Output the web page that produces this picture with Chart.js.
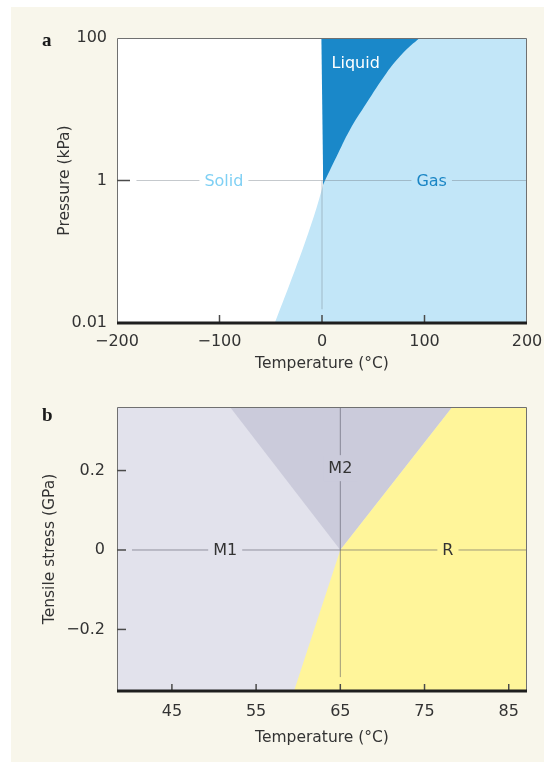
<!DOCTYPE html>
<html lang="en">
<head>
<meta charset="utf-8">
<title>Phase diagrams</title>
<script src="https://cdn.jsdelivr.net/npm/chart.js@4.4.1/dist/chart.umd.min.js"></script>
<style>
  body { margin: 0; background: #fff; }
  #cream { position: absolute; left: 11px; top: 7px; width: 533px; height: 755px; background: #f8f6eb; }
  .box { position: absolute; left: 0; width: 544px; }
</style>
</head>
<body>
<div id="cream"></div>
<div class="box" style="top:0;height:380px"><canvas id="chartA"></canvas></div>
<div class="box" style="top:380px;height:382px"><canvas id="chartB"></canvas></div>

<script>
// ---- panel a : water, pressure vs temperature ----
var tempTicksA = [-200, -100, 0, 100, 200];
var pressTicksA = [0.01, 1, 100];
var vapourT = [-1, 1.2, 14, 27, 43.3, 62.8, 79, 95.3, 110];
var vapourP = [0.73, 0.88, 2.13, 5.08, 12.1, 32.1, 61.4, 100, 145];
var sublimT = [-46.1, -26.7, -15, -5.3, 1.2];
var sublimP = [0.01, 0.0537, 0.157, 0.416, 0.88];
var meltT = [-200, -0.6, 1.2, 1.2];
var meltP = [100, 100, 0.88, 0.01];

// ---- panel b : tensile stress vs temperature ----
var tempTicksB = [45, 55, 65, 75, 85];
var stressTicksB = [-0.2, 0, 0.2];
var m2EdgeT = [51.9, 65, 78.3];
var m2EdgeS = [0.36, 0, 0.36];
var rEdgeT = [59.5, 65, 78.3, 87.2];
var rEdgeS = [-0.355, 0, 0.36, 0.36];

var FONT = '"DejaVu Sans", sans-serif';
var TXT = '#333333';

function pts(xs, ys) {
  return xs.map(function (x, i) { return { x: x, y: ys[i] }; });
}
function fmt(v) {
  return String(v).replace('-', '\u2212');
}
function area(data, fill, color, order, curved) {
  return { data: data, fill: fill, backgroundColor: color, borderWidth: 0, pointRadius: 0,
           showLine: true, order: order, tension: curved ? 0.4 : 0 };
}
function gline(data, color) {
  return { data: data, borderColor: color, borderWidth: 1, pointRadius: 0, showLine: true,
           fill: false, order: 1 };
}

// frame, inner ticks, region labels, panel letter
var decor = {
  id: 'decor',
  afterDatasetsDraw: function (chart, args, o) {
    var ctx = chart.ctx, a = chart.chartArea;
    var xs = chart.scales.x, ys = chart.scales.y;
    ctx.save();
    ctx.strokeStyle = '#707070';
    ctx.lineWidth = 1;
    ctx.beginPath();
    ctx.moveTo(a.left + 0.5, a.bottom);
    ctx.lineTo(a.left + 0.5, a.top + 0.5);
    ctx.lineTo(a.right - 0.5, a.top + 0.5);
    ctx.lineTo(a.right - 0.5, a.bottom);
    ctx.stroke();

    ctx.strokeStyle = '#4a4a4a';
    ctx.lineWidth = 1.5;
    xs.ticks.forEach(function (t) {
      var px = xs.getPixelForValue(t.value);
      if (px < a.left + 3 || px > a.right - 3) return;
      ctx.beginPath();
      ctx.moveTo(px, a.bottom);
      ctx.lineTo(px, a.bottom - o.xTick);
      ctx.stroke();
    });
    ys.ticks.forEach(function (t) {
      var py = ys.getPixelForValue(t.value);
      if (py < a.top + 3 || py > a.bottom - 3) return;
      ctx.beginPath();
      ctx.moveTo(a.left, py);
      ctx.lineTo(a.left + o.yTick, py);
      ctx.stroke();
    });
    ctx.fillStyle = '#1e1e1e';
    ctx.fillRect(a.left, a.bottom - 1.5, a.right - a.left, 3);

    ctx.font = '16px ' + FONT;
    ctx.textAlign = 'center';
    ctx.textBaseline = 'middle';
    o.labels.forEach(function (l) {
      var px = xs.getPixelForValue(l.x), py = ys.getPixelForValue(l.y);
      var w = ctx.measureText(l.text).width;
      if (l.bg) {
        ctx.fillStyle = l.bg;
        ctx.fillRect(px - w / 2 - 5, py - 13, w + 10, 26);
      }
      ctx.fillStyle = l.color;
      ctx.fillText(l.text, px, py + 1);
    });

    ctx.font = 'bold 19px "Liberation Serif", serif';
    ctx.fillStyle = '#1a1a1a';
    ctx.textAlign = 'left';
    ctx.fillText(o.letter, 42, o.letterY);
    ctx.restore();
  }
};

function axes(cfg) {
  return {
    x: {
      type: 'linear', min: cfg.xmin, max: cfg.xmax,
      afterBuildTicks: function (s) { s.ticks = cfg.xticks.map(function (v) { return { value: v }; }); },
      afterFit: function (s) { s.height = cfg.xh; s.paddingLeft = 0; s.paddingRight = 0; },
      grid: { display: false, drawTicks: false }, border: { display: false },
      ticks: { callback: fmt, font: { family: FONT, size: 16 }, color: TXT, padding: cfg.xpad,
               maxRotation: 0, autoSkip: false },
      title: { display: true, text: 'Temperature (°C)', color: TXT, font: { family: FONT, size: 15.5 },
               padding: { top: 0, bottom: cfg.xtitle } }
    },
    y: {
      type: cfg.ytype, min: cfg.ymin, max: cfg.ymax,
      afterBuildTicks: function (s) { s.ticks = cfg.yticks.map(function (v) { return { value: v }; }); },
      afterFit: function (s) { s.width = 117; s.paddingTop = 0; s.paddingBottom = 0; },
      grid: { display: false, drawTicks: false }, border: { display: false },
      ticks: { callback: fmt, font: { family: FONT, size: 16 }, color: TXT, padding: cfg.ypad, autoSkip: false },
      title: { display: true, text: cfg.ytitle, color: TXT, font: { family: FONT, size: 15.5 },
               padding: { top: cfg.ytpad, bottom: 0 } }
    }
  };
}

var GAS = '#c2e6f8', LIQ = '#1a88c9';
var gridA = 'rgba(110,120,130,0.4)';

new Chart(document.getElementById('chartA'), {
  type: 'scatter',
  data: {
    datasets: [
      area(pts([-200, 200], [100, 100]), 'start', GAS, 10),
      area(pts(vapourT, vapourP), 'end', LIQ, 9, true),
      area(pts(meltT, meltP), 'start', '#ffffff', 8),
      area(pts(sublimT, sublimP), 'start', GAS, 7, true),
      gline(pts([-181, 200], [1, 1]), gridA),
      gline(pts([0, 0], [0.0156, 1]), gridA)
    ]
  },
  options: {
    animation: false, responsive: true, maintainAspectRatio: false,
    layout: { padding: { left: 0, top: 38, right: 17, bottom: 0 } },
    scales: axes({ xmin: -200, xmax: 200, xticks: tempTicksA, xh: 57, xpad: 9, xtitle: 7,
                   ytype: 'logarithmic', ymin: 0.01, ymax: 100, yticks: pressTicksA, ypad: 10,
                   ytitle: 'Pressure (kPa)', ytpad: 55.7 }),
    plugins: {
      legend: { display: false }, tooltip: { enabled: false },
      decor: {
        xTick: 8, yTick: 13, letter: 'a', letterY: 41,
        labels: [
          { text: 'Liquid', x: 32.9, y: 44.4, color: '#ffffff' },
          { text: 'Solid', x: -95.7, y: 1, color: '#7fd0f4', bg: '#ffffff' },
          { text: 'Gas', x: 107, y: 1, color: '#1b86c5', bg: GAS }
        ]
      }
    }
  },
  plugins: [decor]
});

var M1 = '#e2e2ec', M2 = '#cbcbdb', RY = '#fff59a';
var gridB = 'rgba(80,80,95,0.55)';

new Chart(document.getElementById('chartB'), {
  type: 'scatter',
  data: {
    datasets: [
      area(pts([38.48, 87.17], [0.36, 0.36]), 'start', M1, 10),
      area(pts(m2EdgeT, m2EdgeS), 'end', M2, 9),
      area(pts(rEdgeT, rEdgeS), 'start', RY, 8),
      gline(pts([40.26, 87.17], [0, 0]), gridB),
      gline(pts([65, 65], [-0.32, 0.36]), gridB)
    ]
  },
  options: {
    animation: false, responsive: true, maintainAspectRatio: false,
    layout: { padding: { left: 0, top: 27, right: 17, bottom: 0 } },
    scales: axes({ xmin: 38.48, xmax: 87.17, xticks: tempTicksB, xh: 71, xpad: 11, xtitle: 14.4,
                   ytype: 'linear', ymin: -0.355, ymax: 0.36, yticks: stressTicksB, ypad: 12,
                   ytitle: 'Tensile stress (GPa)', ytpad: 40.7 }),
    plugins: {
      legend: { display: false }, tooltip: { enabled: false },
      decor: {
        xTick: 7, yTick: 9, letter: 'b', letterY: 36,
        labels: [
          { text: 'M1', x: 51.33, y: 0, color: TXT, bg: M1 },
          { text: 'M2', x: 65, y: 0.206, color: TXT, bg: M2 },
          { text: 'R', x: 77.78, y: 0, color: TXT, bg: RY }
        ]
      }
    }
  },
  plugins: [decor]
});
</script>
</body>
</html>
